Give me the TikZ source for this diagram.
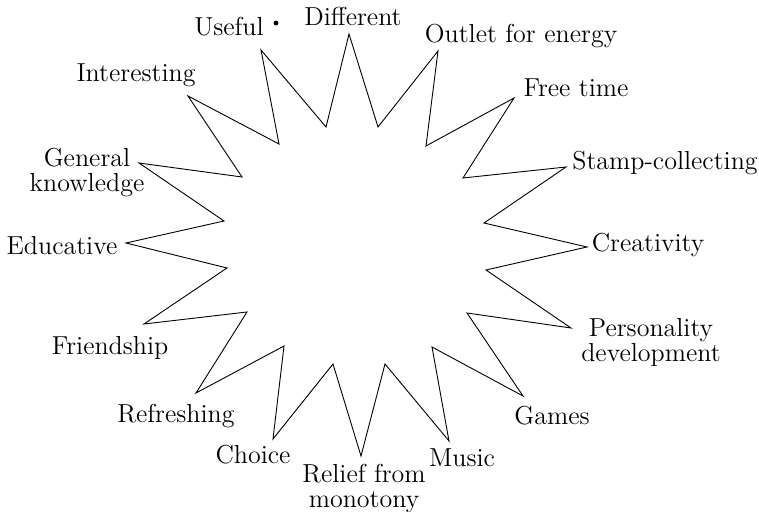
\documentclass[tikz,border=0pt]{standalone}
\usepackage{tikz}

\begin{document}
\begin{tikzpicture}[x=0.5pt, y=-0.5pt,
      every node/.style = {align=center, inner sep=0pt,
        font=\fontsize{13}{12.5}\selectfont}]
      \useasboundingbox (0,0) rectangle (759,512);
      % star outline, clockwise from the tip below "Useful"
      \foreach \px/\py [count=\i] in {261/50, 326/127, 349/34, 378/127,
          438/51, 426/146, 514/98, 463/178, 566/167, 484/223, 587/247,
          486/270, 571/328, 467/313, 523/396, 432/347, 449/441, 385/364,
          361/456, 333/364, 273/439, 284/346, 196/393, 247/312, 144/324,
          227/268, 126/243, 224/221, 139/163, 242/177, 188/96, 279/144}
        \coordinate (s\i) at (\px,\py);
      \draw[line width=0.45pt, line join=miter]
        (s1) \foreach \i in {2,...,32} { -- (s\i) } -- cycle;
      % labels
      \node (useful) at (229,27) {Useful};
      \node[circle, fill, minimum size=2.4pt] (dot) at (276,23) {};
      \node (different) at (353,16) {Different};
      \node (outlet) at (521,36) {Outlet for energy};
      \node (freetime) at (576,88) {Free time};
      \node (stamp) at (665,163) {Stamp-collecting};
      \node (creativity) at (648,245) {Creativity};
      \node (personality) at (651,343) {Personality\\development};
      \node (games) at (552,416) {Games};
      \node (music) at (462,458) {Music};
      \node (relief) at (364,488) {Relief from\\monotony};
      \node (choice) at (253,455) {Choice};
      \node (refreshing) at (176,416) {Refreshing};
      \node (friendship) at (110,348) {Friendship};
      \node (educative) at (62,246) {Educative};
      \node (general) at (87,173) {General\\knowledge};
      \node (interesting) at (136,75) {Interesting};
  \end{tikzpicture}
\end{document}
